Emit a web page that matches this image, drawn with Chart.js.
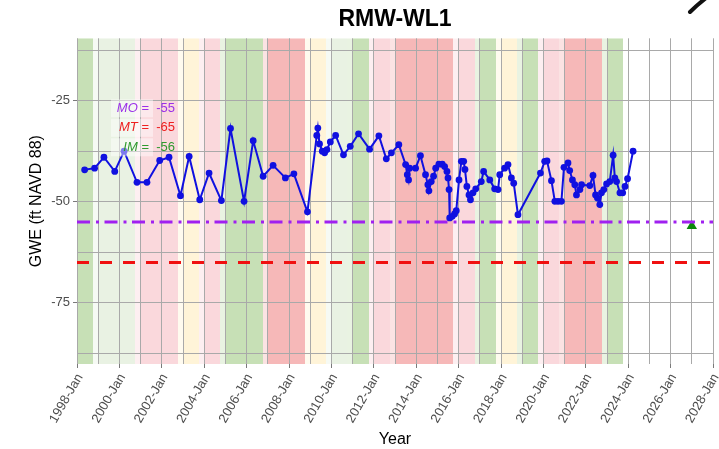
<!DOCTYPE html>
<html>
<head>
<meta charset="utf-8">
<title>RMW-WL1</title>
<script src="https://cdn.jsdelivr.net/npm/chart.js@4.4.1/dist/chart.umd.min.js"></script>
<style>
    html, body { margin: 0; padding: 0; background: #fff; }
    canvas { display: block; }
</style>
</head>
<body>
<canvas id="gweChart" width="719" height="449"></canvas>
<script>
// Measurement dates (decimal years) and groundwater elevation (ft NAVD 88)
const sampleYears = [
    1998.36, 1998.83, 1999.27, 1999.78, 2000.22, 2000.83, 2001.30, 2001.90, 2002.34, 2002.88,
    2003.29, 2003.79, 2004.23, 2004.81, 2005.24, 2005.88, 2006.31, 2006.78, 2007.25, 2007.83,
    2008.23, 2008.87, 2009.31, 2009.36, 2009.44, 2009.57, 2009.68, 2009.79, 2009.95, 2010.20,
    2010.57, 2010.89, 2011.28, 2011.80, 2012.24, 2012.59, 2012.83, 2013.18, 2013.50, 2013.58,
    2013.64, 2013.69, 2013.97, 2014.20, 2014.44, 2014.55, 2014.60, 2014.71, 2014.82, 2014.92,
    2015.07, 2015.23, 2015.34, 2015.45, 2015.50, 2015.55, 2015.58, 2015.70, 2015.81, 2015.89,
    2016.02, 2016.13, 2016.24, 2016.30, 2016.39, 2016.49, 2016.56, 2016.68, 2016.81, 2017.07,
    2017.18, 2017.47, 2017.70, 2017.86, 2017.94, 2018.17, 2018.33, 2018.49, 2018.60, 2018.80,
    2019.86, 2020.06, 2020.17, 2020.38, 2020.54, 2020.69, 2020.85, 2020.97, 2021.16, 2021.24,
    2021.37, 2021.48, 2021.56, 2021.72, 2021.80, 2022.19, 2022.34, 2022.46, 2022.55, 2022.66,
    2022.74, 2022.85, 2022.98, 2023.13, 2023.29, 2023.37, 2023.45, 2023.61, 2023.74, 2023.85,
    2023.97, 2024.23
];
const gweValues = [
    -42.1, -41.7, -39.0, -42.5, -37.5, -45.2, -45.2, -39.8, -39.0, -48.5,
    -38.8, -49.5, -42.9, -49.7, -31.9, -49.9, -34.9, -43.7, -41.0, -44.1,
    -43.1, -52.5, -33.6, -31.8, -35.7, -37.5, -37.9, -37.1, -35.2, -33.6,
    -38.4, -36.3, -33.2, -37.0, -33.7, -39.4, -37.9, -35.9, -40.8, -43.3,
    -44.6, -41.7, -41.7, -38.6, -43.3, -45.8, -47.3, -45.0, -43.7, -41.7,
    -40.7, -40.7, -41.3, -42.5, -44.1, -47.0, -54.0, -53.6, -53.0, -52.2,
    -44.6, -40.0, -40.0, -42.0, -46.2, -48.3, -49.5, -47.8, -46.8, -45.0,
    -42.5, -44.6, -46.8, -47.0, -43.3, -41.7, -40.8, -44.1, -45.4, -53.2,
    -42.9, -40.0, -39.9, -44.8, -49.9, -49.9, -49.9, -41.5, -40.4, -42.3,
    -44.6, -45.8, -48.3, -47.0, -45.8, -46.0, -43.5, -48.3, -49.1, -50.7,
    -47.8, -47.0, -45.6, -45.0, -38.5, -44.1, -45.0, -47.8, -47.8, -46.2,
    -44.3, -37.5
];

// Sustainable management criteria
const criteriaNames = ['MO', 'MT', 'IM'];
const criteriaValues = [-55, -65, -56];
const interimYear = 2027;

// Water year types (W, AN, BN, D, C)
const waterYears = [
    1998, 1999, 2000, 2001, 2002, 2003, 2004, 2005, 2006, 2007, 2008, 2009, 2010,
    2011, 2012, 2013, 2014, 2015, 2016, 2017, 2018, 2019, 2020, 2021, 2022, 2023
];
const waterYearTypes = [
    'W', 'AN', 'AN', 'D', 'D', 'BN', 'D', 'W', 'W', 'C', 'C', 'BN', 'AN',
    'W', 'D', 'C', 'C', 'C', 'D', 'W', 'BN', 'W', 'D', 'C', 'C', 'W'
];

// Axis ticks and limits
const xAxisMin = 1998;
const xAxisMax = 2028;
const yAxisMin = -90.1;
const yAxisMax = -9.6;
const yTickValues = [-87.5, -75, -62.5, -50, -37.5, -25, -12.5];

const FONT = '"Liberation Sans", Arial, Helvetica, sans-serif';
const GRID_COLOR = '#a9a9a9';
const TYPE_COLORS = {
    W: '199,224,182',
    AN: '233,242,227',
    BN: '255,244,216',
    D: '250,216,220',
    C: '246,184,184'
};
const CRITERIA_COLORS = ['#9b30e8', '#ee2020', '#2f9a2f'];

// Shaded water year bands behind the grid
const waterYearBands = {
    id: 'waterYearBands',
    beforeDraw(chart) {
        const { ctx, chartArea: area, scales: { x } } = chart;
        ctx.save();
        ctx.fillStyle = '#fff';
        ctx.fillRect(0, 0, chart.width, chart.height);
        ctx.beginPath();
        ctx.rect(area.left, area.top, area.width, area.height);
        ctx.clip();
        waterYears.forEach((wy, i) => {
            const type = waterYearTypes[i];
            const rgb = TYPE_COLORS[type];
            const start = Math.round(x.getPixelForValue(wy - 0.25));
            const jan = Math.round(x.getPixelForValue(wy));
            const end = Math.round(x.getPixelForValue(wy + 0.75));
            const changed = i > 0 && waterYearTypes[i - 1] !== type;
            ctx.fillStyle = changed ? `rgba(${rgb},0.4)` : `rgb(${rgb})`;
            ctx.fillRect(start, area.top, jan - start, area.height);
            ctx.fillStyle = `rgb(${rgb})`;
            ctx.fillRect(jan, area.top, end - jan, area.height);
        });
        ctx.restore();
    }
};

// MO / MT / IM labels in the upper left
const criteriaLabels = {
    id: 'criteriaLabels',
    afterDatasetsDraw(chart) {
        const { ctx, chartArea: area } = chart;
        const right = area.left + 98;
        ctx.save();
        ctx.textBaseline = 'middle';
        ctx.textAlign = 'right';
        criteriaNames.forEach((name, i) => {
            const y = area.top + 70 + i * 19.5;
            const rest = ' =  ' + criteriaValues[i];
            ctx.font = `13px ${FONT}`;
            const restWidth = ctx.measureText(rest).width;
            ctx.fillStyle = 'rgba(255,255,255,0.45)';
            ctx.fillRect(area.left + 34, y - 9, 42, 18);
            ctx.fillStyle = CRITERIA_COLORS[i];
            ctx.font = `italic 13px ${FONT}`;
            ctx.fillText(name, right - restWidth, y);
            ctx.font = `13px ${FONT}`;
            ctx.fillText(rest, right, y);
        });
        ctx.restore();
    },
    afterDraw(chart) {
        // dark stroke cut off at the top right corner of the picture
        const { ctx } = chart;
        ctx.save();
        ctx.strokeStyle = '#111';
        ctx.lineWidth = 4;
        ctx.lineCap = 'round';
        ctx.beginPath();
        ctx.moveTo(706, -2);
        ctx.quadraticCurveTo(697, 5, 690, 12);
        ctx.stroke();
        ctx.restore();
    }
};

const toPoints = (xs, ys) => xs.map((x, i) => ({ x, y: ys[i] }));

new Chart(document.getElementById('gweChart'), {
    type: 'line',
    data: {
        datasets: [
            {
                label: 'GWE',
                data: toPoints(sampleYears, gweValues),
                borderColor: '#1010e0',
                backgroundColor: '#1010e0',
                borderWidth: 2,
                pointRadius: 3.4,
                pointBorderWidth: 0,
                tension: 0
            },
            {
                label: 'MO',
                data: [{ x: xAxisMin, y: criteriaValues[0] }, { x: xAxisMax, y: criteriaValues[0] }],
                borderColor: '#a020f0',
                borderWidth: 3,
                borderDash: [13, 6, 3, 5.5],
                pointRadius: 0
            },
            {
                label: 'MT',
                data: [{ x: xAxisMin, y: criteriaValues[1] }, { x: xAxisMax, y: criteriaValues[1] }],
                borderColor: '#f01010',
                borderWidth: 3,
                borderDash: [12, 11],
                pointRadius: 0
            },
            {
                label: 'IM',
                data: [{ x: interimYear, y: criteriaValues[2] }],
                showLine: false,
                pointStyle: 'triangle',
                pointRadius: 6,
                pointBorderWidth: 0,
                backgroundColor: '#0a8a0a',
                borderColor: '#0a8a0a'
            }
        ]
    },
    options: {
        responsive: false,
        animation: false,
        devicePixelRatio: 1,
        layout: { padding: { left: 0, right: 6, top: 0, bottom: 0 } },
        plugins: {
            legend: { display: false },
            tooltip: { enabled: false },
            title: {
                display: true,
                text: 'RMW-WL1',
                fullSize: false,
                color: '#000',
                font: { family: FONT, size: 23, weight: 'bold', lineHeight: 1.2 },
                padding: { top: 6, bottom: 4.7 }
            }
        },
        scales: {
            x: {
                type: 'linear',
                min: xAxisMin,
                max: xAxisMax,
                afterFit: scale => {
                    scale.height = 85;
                    scale.paddingLeft = 0;
                    scale.paddingRight = 0;
                },
                border: { display: false },
                grid: {
                    color: GRID_COLOR,
                    lineWidth: 1,
                    tickLength: 4,
                    tickColor: ctx => (ctx.tick && ctx.tick.value % 2 === 0 ? '#7a7a7a' : 'rgba(0,0,0,0)')
                },
                ticks: {
                    stepSize: 1,
                    autoSkip: false,
                    maxRotation: 60,
                    minRotation: 60,
                    labelOffset: 3,
                    color: '#4d4d4d',
                    font: { family: FONT, size: 13 },
                    callback: value => (value % 2 === 0 ? value + '-Jan' : '')
                },
                title: {
                    display: true,
                    text: 'Year',
                    color: '#000',
                    font: { family: FONT, size: 16 },
                    padding: { top: 0, bottom: 0 }
                }
            },
            y: {
                type: 'linear',
                min: yAxisMin,
                max: yAxisMax,
                afterFit: scale => { scale.width = 77; },
                afterBuildTicks: scale => { scale.ticks = yTickValues.map(value => ({ value })); },
                border: { display: false },
                grid: {
                    color: GRID_COLOR,
                    lineWidth: 1,
                    tickLength: 4,
                    tickColor: ctx => (ctx.tick && ctx.tick.value % 25 === 0 ? '#7a7a7a' : 'rgba(0,0,0,0)')
                },
                ticks: {
                    color: '#4d4d4d',
                    font: { family: FONT, size: 13 },
                    callback: value => (value % 25 === 0 ? String(value) : '')
                },
                title: {
                    display: true,
                    text: 'GWE (ft NAVD 88)',
                    color: '#000',
                    font: { family: FONT, size: 16 },
                    padding: { top: 27, bottom: 0 }
                }
            }
        }
    },
    plugins: [waterYearBands, criteriaLabels]
});
</script>
</body>
</html>
